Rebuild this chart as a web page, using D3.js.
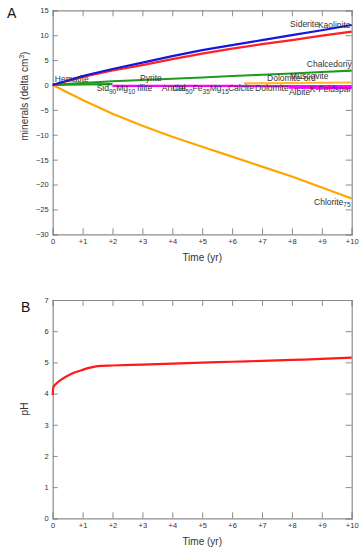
<!DOCTYPE html>
<html>
<head>
<meta charset="utf-8">
<script src="https://cdn.jsdelivr.net/npm/d3@7"></script>
<style>
  body { margin: 0; background: #fff; }
  svg text { font-family: Arial, "Liberation Sans", sans-serif; }
</style>
</head>
<body>
<svg id="chart" width="363" height="550"></svg>
<script>
// values
const years = [0, 1, 2, 3, 4, 5, 6, 7, 8, 9, 10];
const kaoliniteVals = [0, 1.8, 3.2, 4.5, 5.8, 7.0, 8.0, 9.0, 10.0, 11.0, 12.05];
const sideriteVals = [0, 1.6, 2.9, 4.0, 5.2, 6.3, 7.3, 8.2, 9.0, 9.9, 10.7];
const chalcedonyVals = [0, 0.4, 0.75, 1.0, 1.25, 1.5, 1.8, 2.05, 2.3, 2.6, 2.9];
const chloriteVals = [0, -3.0, -5.8, -8.2, -10.4, -12.4, -14.4, -16.4, -18.4, -20.6, -22.8];
const hematiteYears = [0, 1, 2];
const hematiteVals = [0, 0.1, 0.15];
const illiteYears = [2, 4, 6, 8, 10];
const illiteVals = [-0.2, -0.2, -0.2, -0.25, -0.25];
const feldsparYears = [7.9, 10];
const feldsparVals = [-0.55, -0.65];
const muscoviteYears = [6.4, 8, 10];
const muscoviteVals = [0.3, 0.4, 0.5];

const phYears = [0, 0.02, 0.1, 0.25, 0.5, 0.75, 1, 1.25, 1.5, 2, 3, 4, 5, 6, 7, 8, 9, 10];
const phVals = [3.95, 4.2, 4.3, 4.42, 4.57, 4.68, 4.76, 4.83, 4.88, 4.9, 4.93, 4.96, 4.99, 5.02, 5.05, 5.08, 5.11, 5.15];

const xTicks = [0, 1, 2, 3, 4, 5, 6, 7, 8, 9, 10];
const xTickLabels = ["0", "+1", "+2", "+3", "+4", "+5", "+6", "+7", "+8", "+9", "+10"];
const yTicksA = [15, 10, 5, 0, -5, -10, -15, -20, -25, -30];
const yTicksB = [0, 1, 2, 3, 4, 5, 6, 7];

// mineral labels: [text, subscript parts]
const labelNames = [
  ["Hematite"], ["Sid", "90", "Mg", "10"], ["Illite"], ["Pyrite"], ["Annite"],
  ["Cal", "50", "Fe", "35", "Mg", "15"], ["Calcite"], ["Dolomite"], ["Albite"],
  ["K-Feldspar"], ["Dolomite-ord"], ["Muscovite"], ["Chalcedony"], ["Siderite"],
  ["Kaolinite"], ["Chlorite", "75"]
];
const labelAt = [
  [0.07, 0.6], [1.47, -1.3], [2.82, -1.25], [2.92, 0.8], [3.65, -1.3],
  [4.01, -1.3], [5.86, -1.3], [6.77, -1.3], [7.9, -2.0],
  [8.6, -1.45], [7.17, 0.8], [7.94, 1.2], [8.5, 3.6], [7.94, 11.65],
  [8.87, 11.45], [8.74, -24.1]
];

const svg = d3.select("#chart");
const axisColor = "#8c8c8c";
const textColor = "#333";

const x = d3.scaleLinear().domain([0, 10]).range([52.7, 351.7]);
const yA = d3.scaleLinear().domain([-30, 15]).range([234.3, 10.3]);
const yB = d3.scaleLinear().domain([0, 7]).range([518.3, 300]);

function frame(y, yTicks, labelY) {
  const g = svg.append("g");
  const [y0, y1] = y.range();

  g.append("g")
    .attr("transform", `translate(0,${y0})`)
    .call(d3.axisBottom(x).tickValues(xTicks).tickSize(-6).tickPadding(4)
      .tickFormat((d, i) => xTickLabels[i]));
  g.append("g")
    .attr("transform", `translate(0,${y1})`)
    .call(d3.axisTop(x).tickValues(xTicks).tickSize(-6).tickFormat(""));
  g.append("g")
    .attr("transform", `translate(${x.range()[0]},0)`)
    .call(d3.axisLeft(y).tickValues(yTicks).tickSize(-5).tickPadding(4)
      .tickFormat(d => d < 0 ? "\u2212" + (-d) : d));
  g.append("g")
    .attr("transform", `translate(${x.range()[1]},0)`)
    .call(d3.axisRight(y).tickValues(yTicks).tickSize(-6).tickFormat(""));

  g.selectAll(".domain").attr("stroke", axisColor).attr("stroke-width", 1.2);
  g.selectAll(".tick line").attr("stroke", axisColor);
  g.selectAll(".tick text").attr("fill", textColor).style("font-size", "7.5px")
    .style("font-family", "Arial, 'Liberation Sans', sans-serif");

  g.append("text")
    .attr("x", (x.range()[0] + x.range()[1]) / 2)
    .attr("y", y0 + 27)
    .attr("text-anchor", "middle")
    .attr("fill", textColor)
    .style("font-size", "10px")
    .text("Time (yr)");
  return g;
}

frame(yA, yTicksA);
frame(yB, yTicksB);

// panel letters and y labels
svg.append("text").attr("x", 7).attr("y", 18).style("font-size", "14px").attr("fill", "#111").text("A");
svg.append("text").attr("x", 21).attr("y", 312).style("font-size", "14px").attr("fill", "#111").text("B");

const yLabA = svg.append("text")
  .attr("transform", "translate(28,96) rotate(-90)")
  .attr("text-anchor", "middle")
  .attr("fill", textColor)
  .style("font-size", "10px");
yLabA.append("tspan").text("minerals (delta cm");
yLabA.append("tspan").attr("dy", -4).style("font-size", "7px").text("3");
yLabA.append("tspan").attr("dy", 4).text(")");

svg.append("text")
  .attr("transform", "translate(28,409) rotate(-90)")
  .attr("text-anchor", "middle")
  .attr("fill", textColor)
  .style("font-size", "10px")
  .text("pH");

// lines for panel A
const lineA = d3.line().x(d => x(d[0])).y(d => yA(d[1]));
const series = [
  { xs: hematiteYears, vs: hematiteVals, color: "#1f9a1f" },
  { xs: muscoviteYears, vs: muscoviteVals, color: "#ffb732" },
  { xs: illiteYears, vs: illiteVals, color: "#ff00ff" },
  { xs: feldsparYears, vs: feldsparVals, color: "#ff00ff" },
  { xs: years, vs: chalcedonyVals, color: "#1f9a1f" },
  { xs: years, vs: chloriteVals, color: "#ffa500" },
  { xs: years, vs: sideriteVals, color: "#ff2020" },
  { xs: years, vs: kaoliniteVals, color: "#1515e0" }
];
series.forEach(s => {
  svg.append("path")
    .datum(s.xs.map((t, i) => [t, s.vs[i]]))
    .attr("d", lineA)
    .attr("fill", "none")
    .attr("stroke", s.color)
    .attr("stroke-width", 2.2);
});

// mineral labels
labelNames.forEach((parts, i) => {
  const t = svg.append("text")
    .attr("x", x(labelAt[i][0]))
    .attr("y", yA(labelAt[i][1]))
    .attr("fill", textColor)
    .style("font-size", "8.5px");
  parts.forEach((p, j) => {
    const sub = j % 2 === 1;
    const span = t.append("tspan").text(p);
    if (sub) span.attr("dy", 2.5).style("font-size", "6.5px");
    else if (j > 0) span.attr("dy", -2.5);
  });
});

// pH line for panel B
const lineB = d3.line().x(d => x(d[0])).y(d => yB(d[1])).curve(d3.curveMonotoneX);
svg.append("path")
  .datum(phYears.map((t, i) => [t, phVals[i]]))
  .attr("d", lineB)
  .attr("fill", "none")
  .attr("stroke", "#ff1a1a")
  .attr("stroke-width", 2.2);
</script>
</body>
</html>
